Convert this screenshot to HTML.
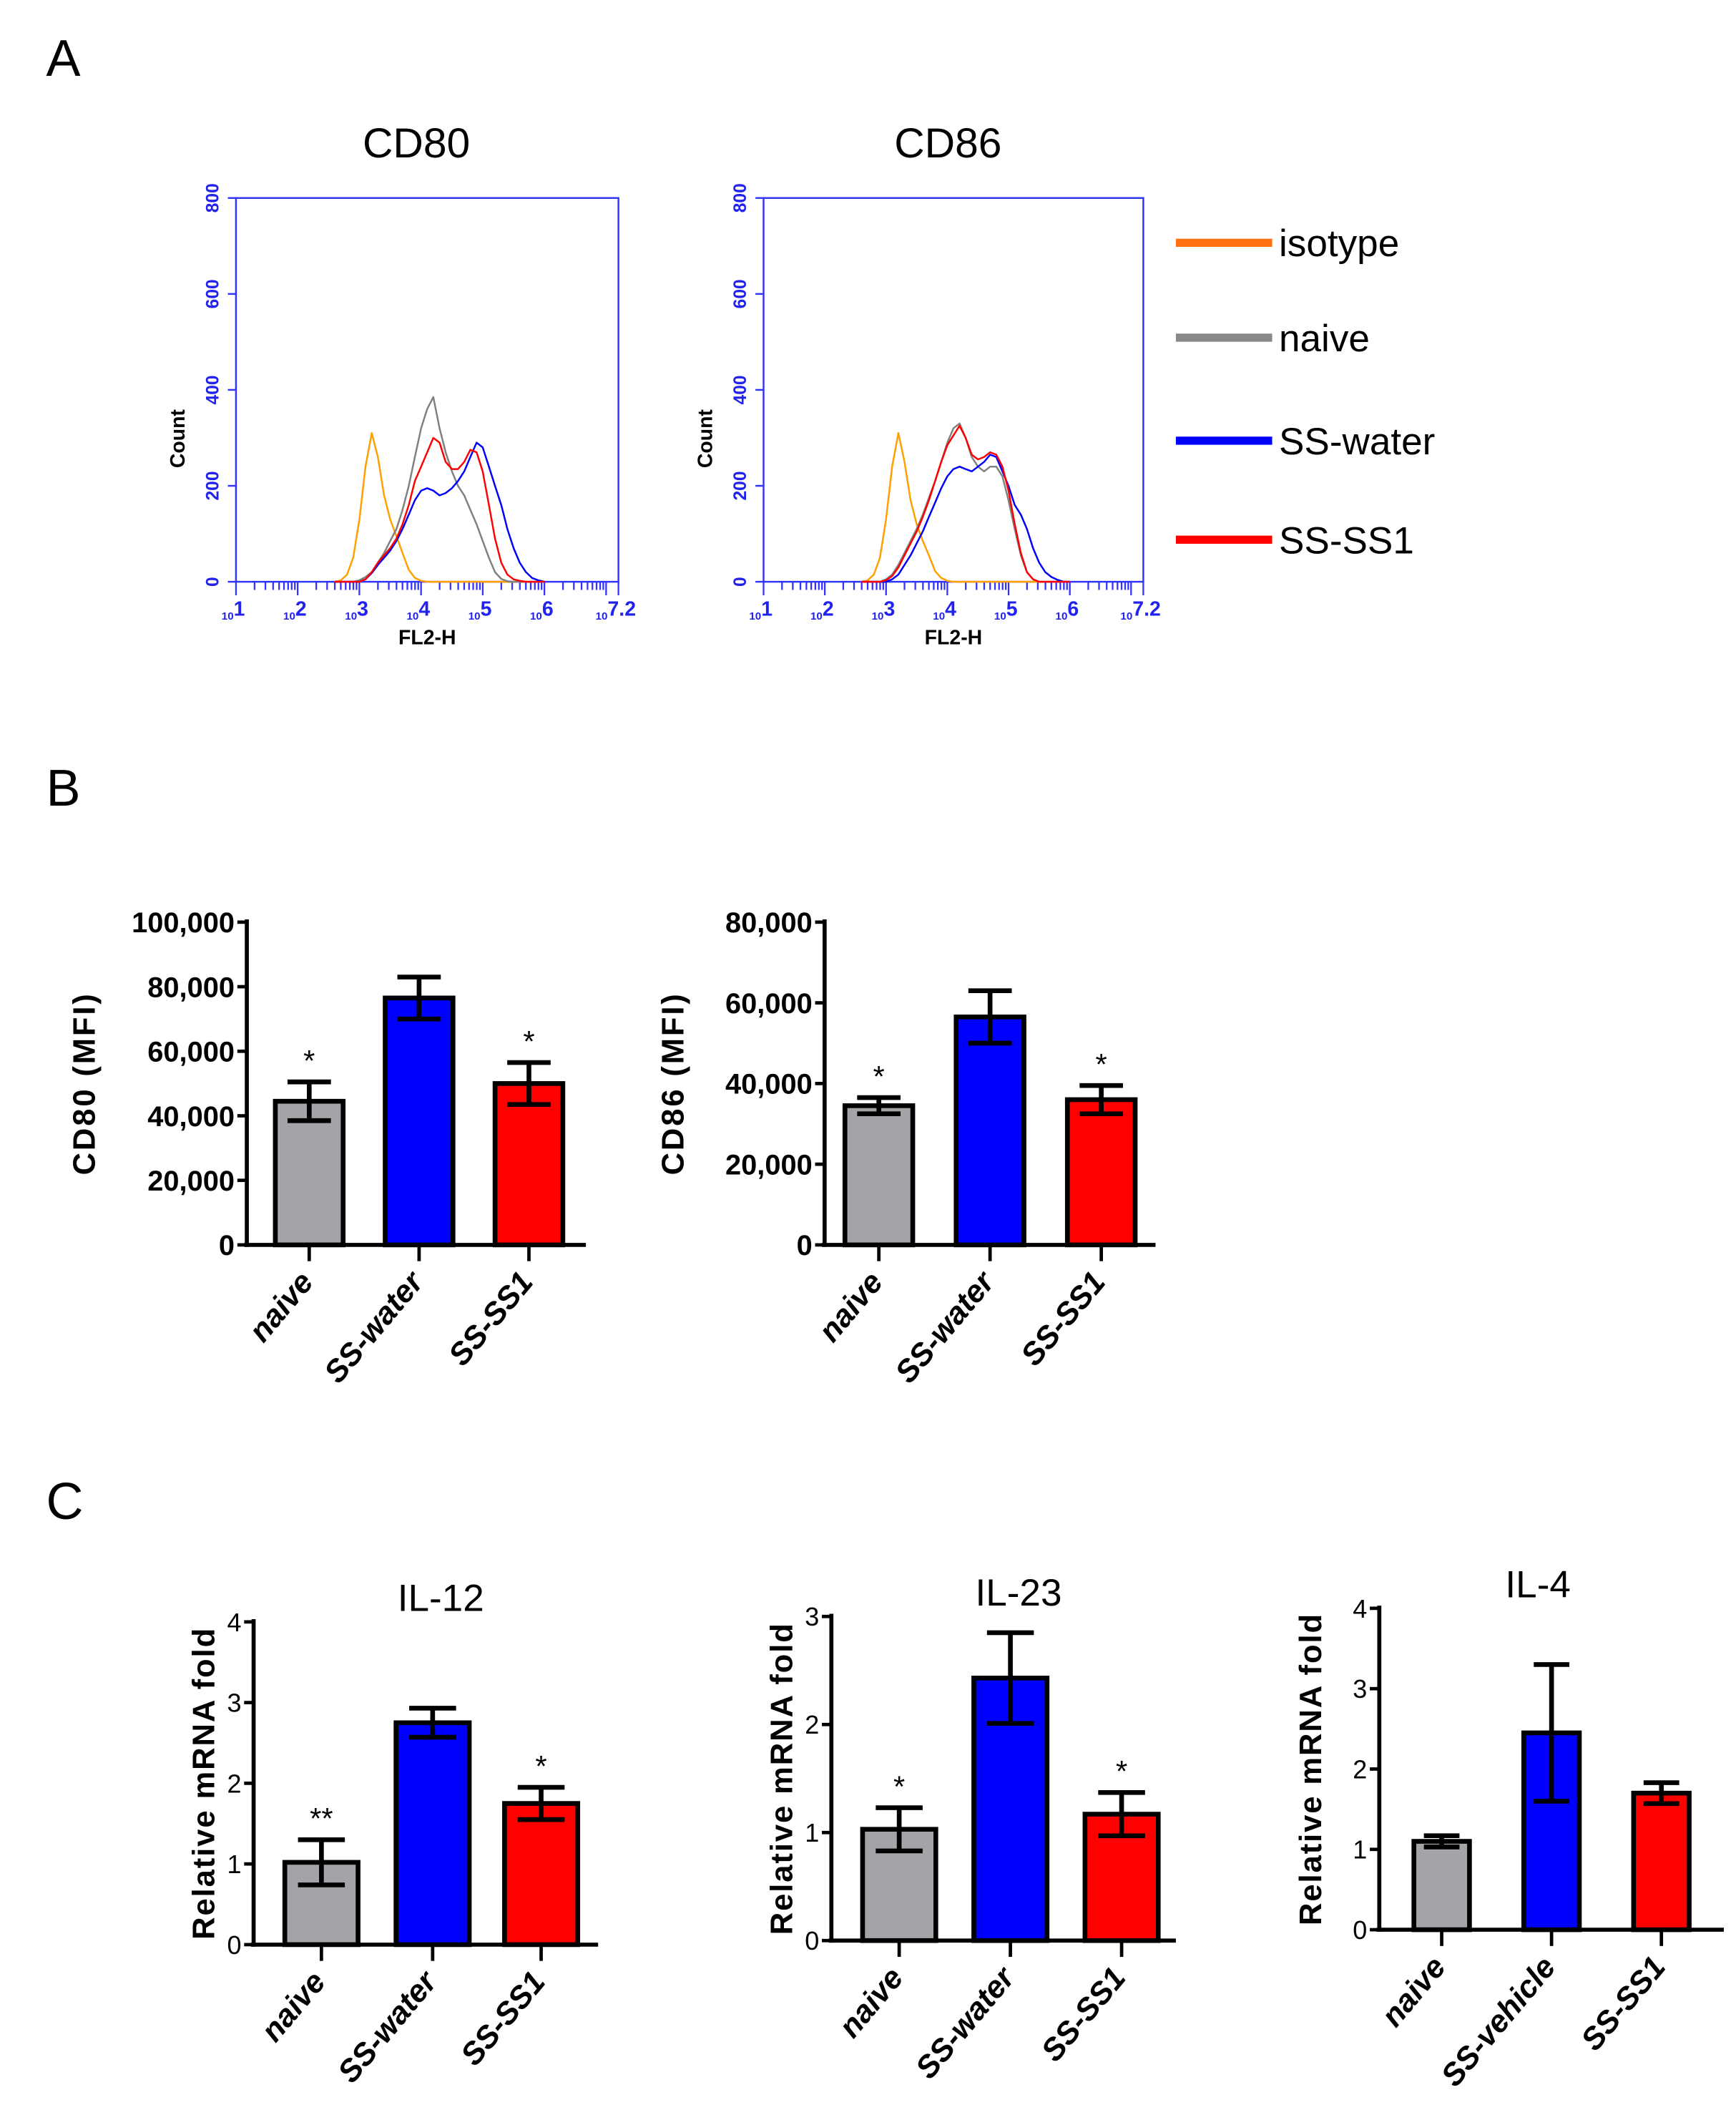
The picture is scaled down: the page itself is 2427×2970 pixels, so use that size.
<!DOCTYPE html>
<html><head><meta charset="utf-8">
<style>
html,body{margin:0;padding:0;background:#fff;}
svg{display:block;}
text{font-family:"Liberation Sans",sans-serif;}
</style></head>
<body>
<svg id="fig" xmlns="http://www.w3.org/2000/svg" width="2427" height="2970" viewBox="0 0 1280 1567" preserveAspectRatio="none">
<text x="34" y="56" font-size="38">A</text>
<text x="34" y="594" font-size="38">B</text>
<text x="34" y="1120" font-size="38">C</text>
<g id="legend"></g>
</svg>
<script>
// ---------- Histogram data (Panel A) ----------
const histLogs = [2.6,2.7,2.8,2.9,3.0,3.1,3.2,3.3,3.4,3.5,3.6,3.7,3.8,3.9,4.0,4.1,4.2,4.3,4.4,4.5,4.6,4.7,4.8,4.9,5.0,5.1,5.2,5.3,5.4,5.5,5.6,5.7,5.8,5.9,6.0];
const cd80Isotype = [0,3,15,50,130,240,310,260,180,130,95,60,25,8,2,0,0,0,0,0,0,0,0,0,0,0,0,0,0,0,0,0,0,0,0];
const cd80Naive   = [0,0,0,0,3,10,20,40,60,85,110,150,200,260,320,360,385,320,270,230,200,180,150,120,85,50,20,6,1,0,0,0,0,0,0];
const cd80Water   = [0,0,0,0,0,5,18,35,50,65,85,110,140,170,190,195,190,180,185,195,210,230,260,290,280,240,200,160,110,70,40,20,8,3,0];
const cd80SS1     = [0,0,0,0,0,5,20,40,55,70,90,120,160,210,240,270,300,290,250,235,235,250,275,270,230,160,90,40,15,5,2,0,0,0,0];
const cd86Isotype = [0,3,15,50,130,240,310,250,170,120,85,55,22,8,2,0,0,0,0,0,0,0,0,0,0,0,0,0,0,0,0,0,0,0,0];
const cd86Naive   = [0,0,0,0,5,15,35,60,85,110,140,175,210,250,290,320,330,300,260,240,230,240,240,220,170,110,55,20,5,0,0,0,0,0,0];
const cd86Water   = [0,0,0,0,0,5,15,35,55,80,105,135,165,195,220,235,240,235,230,240,250,265,260,230,200,160,140,110,70,40,20,10,4,0,0];
const cd86SS1     = [0,0,0,0,3,12,30,55,80,105,135,170,210,250,285,305,325,300,265,255,260,270,265,240,190,120,60,20,5,0,0,0,0,0,0];
const histYTicks = [0,200,400,600,800];
const histXTicks = ["1","2","3","4","5","6","7.2"];
const histXTickVals = [1,2,3,4,5,6,7.2];

// ---------- Bar data (Panel B, C) ----------
const groupsB = ["naive","SS-water","SS-SS1"];
const cd80Mean = [44500,76500,50000];
const cd80Err  = [6000,6500,6500];
const cd80Stars = ["*","","*"];
const cd80Ticks = [0,20000,40000,60000,80000,100000];
const cd86Mean = [34500,56500,36000];
const cd86Err  = [2000,6500,3500];
const cd86Stars = ["*","","*"];
const cd86Ticks = [0,20000,40000,60000,80000];

const groupsIL = ["naive","SS-water","SS-SS1"];
const groupsIL4 = ["naive","SS-vehicle","SS-SS1"];
const il12Mean = [1.02,2.75,1.75];
const il12Err  = [0.28,0.18,0.2];
const il12Stars = ["**","","*"];
const il12Ticks = [0,1,2,3,4];
const il23Mean = [1.03,2.43,1.17];
const il23Err  = [0.2,0.42,0.2];
const il23Stars = ["*","","*"];
const il23Ticks = [0,1,2,3];
const il4Mean = [1.1,2.45,1.7];
const il4Err  = [0.07,0.85,0.13];
const il4Stars = ["","",""];
const il4Ticks = [0,1,2,3,4];

const colors = ["#a3a3a8","#0000ff","#ff0000"];
const NS = "http://www.w3.org/2000/svg";
const svg = document.getElementById('fig');
function mk(tag, attrs, parent, txt){
  const e = document.createElementNS(NS, tag);
  for (const k in attrs) e.setAttribute(k, attrs[k]);
  if (txt !== undefined) e.textContent = txt;
  (parent||svg).appendChild(e);
  return e;
}

// ---------- Histogram ----------
function histogram(name, title, titleX, x0, x1, yTop, yBot, series){
  const g = mk('g', {}, svg);
  
  
  const xs = v => x0 + (v-1)/(6.2)*(x1-x0);
  const ys = v => yBot - v/800*(yBot-yTop);
  const t = mk('text', {x:titleX, y:yTop-30, 'font-size':31, 'text-anchor':'middle'}, g, title);
  
  
  const box = mk('rect', {x:x0, y:yTop, width:x1-x0, height:yBot-yTop, fill:'none', stroke:'#3333ff', 'stroke-width':1.3}, g);
  
  
  histYTicks.forEach(v=>{
    const y = ys(v);
    mk('line',{x1:x0-6,y1:y,x2:x0,y2:y,stroke:'#3333ff','stroke-width':1.3},g);
    const tl = mk('text',{x:0,y:0,'font-size':13,'font-weight':'bold',fill:'#2222ee','text-anchor':'middle','font-family':'Liberation Serif, serif',transform:`translate(${x0-13},${y}) rotate(-90)`},g,String(v));
    
    
  });
  for (let d=1; d<7.2; d++){
    for (let m=1; m<10; m++){
      const lv = d + Math.log10(m);
      if (lv>7.2) break;
      const x = xs(lv);
      mk('line',{x1:x,y1:yBot,x2:x,y2:yBot+(m===1?10:6),stroke:'#3333ff','stroke-width':1.2},g);
    }
  }
  mk('line',{x1:x1,y1:yBot,x2:x1,y2:yBot+10,stroke:'#3333ff','stroke-width':1.2},g);
  histXTickVals.forEach((v,i)=>{
    const tl = mk('text',{x:xs(v)-2,y:yBot+25,'font-size':15,fill:'#2222ee','text-anchor':'middle','font-family':'Liberation Serif, serif','font-weight':'bold'},g);
    
    
    mk('tspan',{'font-size':8,dy:3},tl,'10');
    mk('tspan',{dy:-3},tl,histXTicks[i]);
  });
  const xl = mk('text',{x:(x0+x1)/2,y:yBot+46,'font-size':15,'font-weight':'bold','text-anchor':'middle','font-family':'Liberation Serif, serif'},g,'FL2-H');
  
  
  const yl = mk('text',{x:0,y:0,'font-size':15,'font-weight':'bold','text-anchor':'middle','font-family':'Liberation Serif, serif',transform:`translate(${x0-38},${(yTop+yBot)/2+36}) rotate(-90)`},g,'Count');
  
  
  series.forEach(s=>{
    const pts = histLogs.map((l,i)=>xs(l).toFixed(1)+','+ys(s.data[i]).toFixed(1)).join(' ');
    const p = mk('polyline',{points:pts,fill:'none',stroke:s.color,'stroke-width':1.3,'stroke-linejoin':'round'},g);
    
    
  });
}
histogram('cd80-histogram','CD80',307,174,456,146,429,[
  {name:'isotype-curve',color:'#ffa000',data:cd80Isotype},
  {name:'naive-curve',color:'#808080',data:cd80Naive},
  {name:'ss-water-curve',color:'#0000ff',data:cd80Water},
  {name:'ss-ss1-curve',color:'#ff0000',data:cd80SS1}]);
histogram('cd86-histogram','CD86',699,563,843,146,429,[
  {name:'isotype-curve',color:'#ffa000',data:cd86Isotype},
  {name:'naive-curve',color:'#808080',data:cd86Naive},
  {name:'ss-water-curve',color:'#0000ff',data:cd86Water},
  {name:'ss-ss1-curve',color:'#ff0000',data:cd86SS1}]);

// legend
const legendItems = [["isotype","#ff7010",179],["naive","#888888",249],["SS-water","#0000ff",325],["SS-SS1","#ff0000",398]];
const lg = document.getElementById('legend');
legendItems.forEach(it=>{
  const gi = mk('g',{},lg);
  
  
  mk('line',{x1:867,y1:it[2],x2:938,y2:it[2],stroke:it[1],'stroke-width':6},gi);
  mk('text',{x:943,y:it[2]+10,'font-size':28},gi,it[0]);
});

// ---------- Bar chart ----------
function barChart(o){
  const g = mk('g',{},svg);
  
  
  const ymax = o.ticks[o.ticks.length-1];
  const ys = v => o.yBot - v/ymax*(o.yBot-o.yTop);
  if (o.title){
    const t = mk('text',{x:o.titleX,y:o.titleY,'font-size':28,'text-anchor':'middle'},g,o.title);
    
    
  }
  o.means.forEach((v,i)=>{
    const cx = o.centers[i];
    const r = mk('rect',{x:cx-o.bw/2,y:ys(v),width:o.bw,height:o.yBot-ys(v),fill:colors[i],stroke:'#000','stroke-width':3.5},g);
    
    
    const e = o.errs[i];
    const eg = mk('g',{stroke:'#000','stroke-width':3.5},g);
    
    
    mk('line',{x1:cx,y1:ys(v+e),x2:cx,y2:ys(v-e)},eg);
    mk('line',{x1:cx-o.bw*0.32,y1:ys(v+e),x2:cx+o.bw*0.32,y2:ys(v+e)},eg);
    mk('line',{x1:cx-o.bw*0.32,y1:ys(v-e),x2:cx+o.bw*0.32,y2:ys(v-e)},eg);
    if (o.stars[i]){
      const s = mk('text',{x:cx,y:ys(v+e)-8,'font-size':22,'text-anchor':'middle'},g,o.stars[i]);
      
      
    }
    mk('line',{x1:cx,y1:o.yBot,x2:cx,y2:o.yBot+12,stroke:'#000','stroke-width':2.5},g);
    const xl = mk('text',{x:0,y:0,'font-size':o.xfs,'font-weight':'bold','font-style':'italic','text-anchor':'end',transform:`translate(${cx+4},${o.yBot+28}) rotate(-50)`},g,o.groups[i]);
    
    
  });
  mk('line',{x1:o.ax,y1:o.yTop-2,x2:o.ax,y2:o.yBot+1.5,stroke:'#000','stroke-width':3},g);
  mk('line',{x1:o.ax-2,y1:o.yBot,x2:o.xEnd,y2:o.yBot,stroke:'#000','stroke-width':3},g);
  o.ticks.forEach((v,i)=>{
    const y = ys(v);
    mk('line',{x1:o.ax-7,y1:y,x2:o.ax,y2:y,stroke:'#000','stroke-width':2.5},g);
    const tl = mk('text',{x:o.ax-9,y:y+o.tfs*0.36,'font-size':o.tfs,'font-weight':o.tbold?'bold':'normal','text-anchor':'end'},g,o.tickLabels[i]);
    
    
  });
  const yl = mk('text',{x:0,y:0,'font-size':o.yfs,'font-weight':'bold','text-anchor':'middle','letter-spacing':o.ls,transform:`translate(${o.ylX},${(o.yTop+o.yBot)/2}) rotate(-90)`},g,o.ylabel);
  
  
}
const fmt = v => v.toLocaleString('en-US');
barChart({name:'cd80-mfi-chart',ax:182,yTop:680,yBot:918,xEnd:432,ticks:cd80Ticks,tickLabels:cd80Ticks.map(fmt),tfs:21,tbold:true,
  centers:[228,309,390],bw:50,means:cd80Mean,errs:cd80Err,stars:cd80Stars,groups:groupsB,xfs:23,ylabel:'CD80 (MFI)',ylX:70,yfs:23,ls:1.5});
barChart({name:'cd86-mfi-chart',ax:608,yTop:680,yBot:918,xEnd:852,ticks:cd86Ticks,tickLabels:cd86Ticks.map(fmt),tfs:21,tbold:true,
  centers:[648,730,812],bw:50,means:cd86Mean,errs:cd86Err,stars:cd86Stars,groups:groupsB,xfs:23,ylabel:'CD86 (MFI)',ylX:504,yfs:23,ls:1.5});
barChart({name:'il12-chart',title:'IL-12',titleX:325,titleY:1188,ax:187,yTop:1196,yBot:1434,xEnd:441,ticks:il12Ticks,tickLabels:il12Ticks.map(String),tfs:19,tbold:false,
  centers:[237,319,399],bw:54,means:il12Mean,errs:il12Err,stars:il12Stars,groups:groupsIL,xfs:23,ylabel:'Relative mRNA fold',ylX:158,yfs:23,ls:1});
barChart({name:'il23-chart',title:'IL-23',titleX:751,titleY:1184,ax:613,yTop:1192,yBot:1431,xEnd:867,ticks:il23Ticks,tickLabels:il23Ticks.map(String),tfs:19,tbold:false,
  centers:[663,745,827],bw:54,means:il23Mean,errs:il23Err,stars:il23Stars,groups:groupsIL,xfs:23,ylabel:'Relative mRNA fold',ylX:584,yfs:23,ls:1});
barChart({name:'il4-chart',title:'IL-4',titleX:1134,titleY:1178,ax:1017,yTop:1186,yBot:1423,xEnd:1271,ticks:il4Ticks,tickLabels:il4Ticks.map(String),tfs:19,tbold:false,
  centers:[1063,1144,1225],bw:41,means:il4Mean,errs:il4Err,stars:il4Stars,groups:groupsIL4,xfs:23,ylabel:'Relative mRNA fold',ylX:974,yfs:23,ls:1});
</script>
</body></html>
